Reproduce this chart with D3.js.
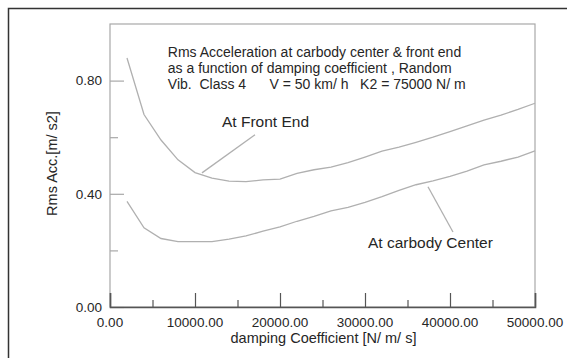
<!DOCTYPE html>
<html>
<head>
<meta charset="utf-8">
<script src="https://cdn.jsdelivr.net/npm/d3@7"></script>
<style>
  body { margin: 0; background: #fff; }
  svg text { font-family: "Liberation Sans", Arial, sans-serif; fill: #262626; }
</style>
</head>
<body>
<div id="chart"></div>
<script>
// damping coefficient [N/m/s]
var damping = [2000, 4000, 6000, 8000, 10000, 12000, 14000, 16000, 18000, 20000,
               22000, 24000, 26000, 28000, 30000, 32000, 34000, 36000, 38000, 40000,
               42000, 44000, 46000, 48000, 50000];

// Rms acceleration [m/s2]
var frontEnd = [0.880, 0.680, 0.590, 0.520, 0.475, 0.455, 0.445, 0.443, 0.449, 0.452,
                0.472, 0.485, 0.494, 0.510, 0.530, 0.551, 0.565, 0.582, 0.600, 0.620,
                0.640, 0.660, 0.678, 0.698, 0.720];
var carbodyCenter = [0.373, 0.280, 0.242, 0.231, 0.231, 0.231, 0.240, 0.251, 0.268, 0.283,
                     0.303, 0.320, 0.340, 0.352, 0.370, 0.390, 0.412, 0.432, 0.446, 0.462,
                     0.480, 0.502, 0.515, 0.530, 0.552];

var xTicks = [0, 10000, 20000, 30000, 40000, 50000];
var xMinor = [5000, 15000, 25000, 35000, 45000];
var yTicks = [0, 0.4, 0.8];
var yMinor = [0.2, 0.6];

var titleLines = [
    "Rms Acceleration at carbody center & front end",
    "as a function of damping coefficient , Random",
    "Vib.  Class 4      V = 50 km/ h   K2 = 75000 N/ m"
];

var W = 567, H = 358;
var margin = { top: 24, right: 32, bottom: 51, left: 110 },
    width = W - margin.left - margin.right,
    height = H - margin.top - margin.bottom;

var svg = d3.select("#chart").append("svg")
    .attr("width", W)
    .attr("height", H);

// outer frame (runs off the picture at right / bottom)
svg.append("rect")
    .attr("x", 8.5).attr("y", 8.5)
    .attr("width", 700).attr("height", 500)
    .attr("fill", "none")
    .attr("stroke", "#333")
    .attr("stroke-width", 1.5);

var g = svg.append("g")
    .attr("transform", "translate(" + margin.left + "," + margin.top + ")");

var x = d3.scaleLinear().domain([0, 50000]).range([0, width]);
var y = d3.scaleLinear().domain([0, 1.0]).range([height, 0]);

// plot box
g.append("rect")
    .attr("x", 0).attr("y", 0)
    .attr("width", width).attr("height", height)
    .attr("fill", "none")
    .attr("stroke", "#a8a8a8")
    .attr("stroke-width", 1.2);

// y axis: ticks point inward
var yAxis = g.append("g").call(d3.axisRight(y).tickValues(yTicks).tickSize(14).tickFormat(""));
yAxis.select(".domain").remove();
yAxis.selectAll("line").attr("stroke", "#a8a8a8").attr("stroke-width", 1.2);
var yAxisMinor = g.append("g").call(d3.axisRight(y).tickValues(yMinor).tickSize(8).tickFormat(""));
yAxisMinor.select(".domain").remove();
yAxisMinor.selectAll("line").attr("stroke", "#a8a8a8").attr("stroke-width", 1.2);

g.selectAll(".ylab")
    .data(yTicks)
    .enter().append("text")
    .attr("class", "ylab")
    .attr("x", -8)
    .attr("y", function(d) { return y(d); })
    .attr("dy", "0.35em")
    .attr("text-anchor", "end")
    .style("font-size", "13.5px")
    .text(d3.format(".2f"));

// x axis: ticks point up
var xAxis = g.append("g")
    .attr("transform", "translate(0," + height + ")")
    .call(d3.axisTop(x).tickValues(xTicks).tickSize(14).tickFormat(""));
xAxis.select(".domain").attr("stroke", "#555").attr("stroke-width", 1.6);
xAxis.selectAll("line").attr("stroke", "#555").attr("stroke-width", 1.2);
var xAxisMinor = g.append("g")
    .attr("transform", "translate(0," + height + ")")
    .call(d3.axisTop(x).tickValues(xMinor).tickSize(7).tickFormat(""));
xAxisMinor.select(".domain").remove();
xAxisMinor.selectAll("line").attr("stroke", "#555").attr("stroke-width", 1.2);

g.selectAll(".xlab")
    .data(xTicks)
    .enter().append("text")
    .attr("class", "xlab")
    .attr("x", function(d) { return x(d); })
    .attr("y", height + 15)
    .attr("dy", "0.35em")
    .attr("text-anchor", "middle")
    .style("font-size", "13.5px")
    .text(d3.format(".2f"));

// axis titles
g.append("text")
    .attr("x", width / 2 + 1)
    .attr("y", height + 31)
    .attr("dy", "0.35em")
    .attr("text-anchor", "middle")
    .style("font-size", "14.5px")
    .text("damping Coefficient [N/ m/ s]");

g.append("text")
    .attr("transform", "translate(-58," + (height / 2 - 2) + ") rotate(-90)")
    .attr("dy", "0.35em")
    .attr("text-anchor", "middle")
    .style("font-size", "14.5px")
    .text("Rms Acc.[m/ s2]");

// curves
var line = d3.line()
    .x(function(d, i) { return x(damping[i]); })
    .y(function(d) { return y(d); });

[frontEnd, carbodyCenter].forEach(function(series) {
    g.append("path")
        .datum(series)
        .attr("d", line)
        .attr("fill", "none")
        .attr("stroke", "#b0b0b0")
        .attr("stroke-width", 1.3);
});

// title block
g.selectAll(".title")
    .data(titleLines)
    .enter().append("text")
    .attr("class", "title")
    .attr("x", x(6800))
    .attr("y", function(d, i) { return y(0.899) + i * 16; })
    .attr("dy", "0.35em")
    .style("font-size", "14px")
    .attr("xml:space", "preserve")
    .text(function(d) { return d; });

// annotations with leader lines (in data units)
var notes = [
    { label: "At Front End", lx: 13180, ly: 0.655, x1: 17060, y1: 0.609, x2: 10820, y2: 0.474 },
    { label: "At carbody Center", lx: 30350, ly: 0.2265, x1: 37410, y1: 0.425, x2: 40350, y2: 0.265 }
];

notes.forEach(function(n) {
    g.append("line")
        .attr("x1", x(n.x1)).attr("y1", y(n.y1))
        .attr("x2", x(n.x2)).attr("y2", y(n.y2))
        .attr("stroke", "#b0b0b0")
        .attr("stroke-width", 1.3);
    g.append("text")
        .attr("x", x(n.lx))
        .attr("y", y(n.ly))
        .attr("dy", "0.35em")
        .style("font-size", "15.5px")
        .text(n.label);
});
</script>
</body>
</html>
